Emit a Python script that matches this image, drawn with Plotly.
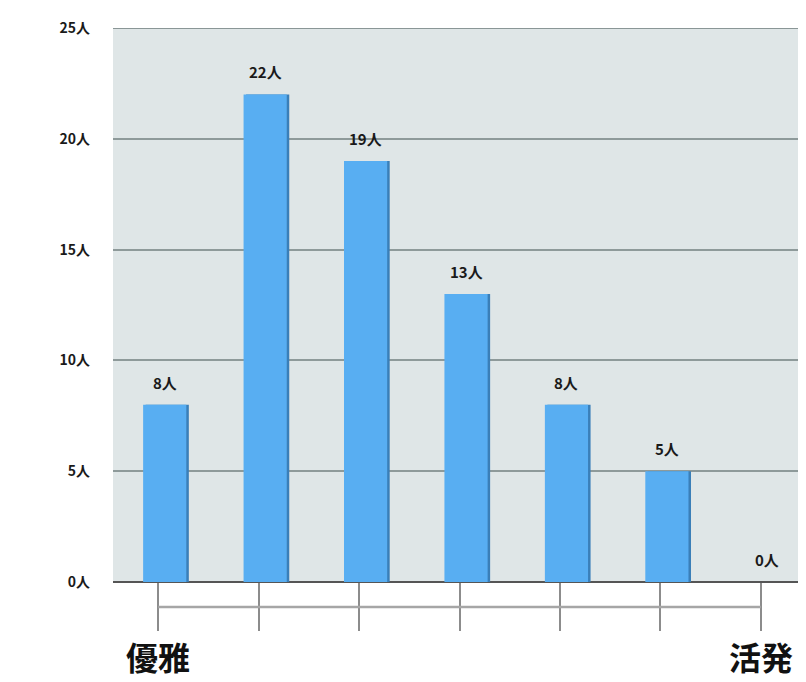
import plotly.graph_objects as go

categories = [0, 1, 2, 3, 4, 5, 6]
counts = [8, 22, 19, 13, 8, 5, 0]
bar_labels = ["8人", "22人", "19人", "13人", "8人", "5人", "0人"]
y_tick_vals = [0, 5, 10, 15, 20, 25]
y_tick_text = ["0人", "5人", "10人", "15人", "20人", "25人"]
end_labels = ["優雅", "活発"]

FONT = "Noto Sans CJK JP"
BAR_W = 0.43
BAR_OFF = -0.15

fig = go.Figure()
# shadow on right edge
fig.add_trace(go.Bar(
    x=categories, y=counts,
    marker=dict(color="#3a7fb8", line=dict(width=0)),
    width=BAR_W, offset=BAR_OFF + 0.025,
    hoverinfo="skip",
))
fig.add_trace(go.Bar(
    x=categories, y=counts,
    marker=dict(color="#58aef2", line=dict(width=0)),
    width=BAR_W, offset=BAR_OFF,
))

for c, v, t in zip(categories, counts, bar_labels):
    fig.add_annotation(x=c, y=v, xref="x", yref="y", text="<b>" + t + "</b>",
                       showarrow=False, yanchor="bottom", yshift=10,
                       xshift=(BAR_OFF + BAR_W / 2) * 100.5,
                       font=dict(family=FONT, size=15, color="#1a1a1a"))

# top gridline at range edge
fig.add_shape(type="line", xref="paper", yref="y", x0=0, x1=1,
              y0=y_tick_vals[-1], y1=y_tick_vals[-1],
              line=dict(color="#8a9696", width=2))

# bracket line under axis
fig.add_shape(type="line", xref="x", yref="paper",
              x0=categories[0], x1=categories[-1], y0=-0.045, y1=-0.045,
              line=dict(color="#a6a6a6", width=2.5))

for xc, lab in ((categories[0], end_labels[0]), (categories[-1], end_labels[1])):
    fig.add_annotation(x=xc, y=-0.133, xref="x", yref="paper",
                       text="<b>" + lab + "</b>", showarrow=False,
                       yanchor="middle", xanchor="center",
                       font=dict(family=FONT, size=32, color="#111"))

fig.update_layout(
    width=798, height=674,
    margin=dict(l=105, r=0, t=20, b=100),
    paper_bgcolor="white",
    plot_bgcolor="#dfe6e7",
    showlegend=False,
    barmode="overlay",
)
fig.update_xaxes(
    range=[-0.45, 6.45],
    tickvals=categories, showticklabels=False,
    ticks="outside", ticklen=48, tickwidth=1.5, tickcolor="#8c8c8c",
    showgrid=False, zeroline=False, showline=False,
)
fig.update_yaxes(
    range=[0, 25],
    tickvals=y_tick_vals, ticktext=["<b>" + t + "</b>" for t in y_tick_text],
    tickfont=dict(family=FONT, size=14, color="#1a1a1a"),
    ticklabelstandoff=22,
    showgrid=True, gridcolor="#8e9a9a", gridwidth=1.5,
    zeroline=True, zerolinecolor="#555", zerolinewidth=1.5,
    showline=False,
)

fig.write_html("out.html")
